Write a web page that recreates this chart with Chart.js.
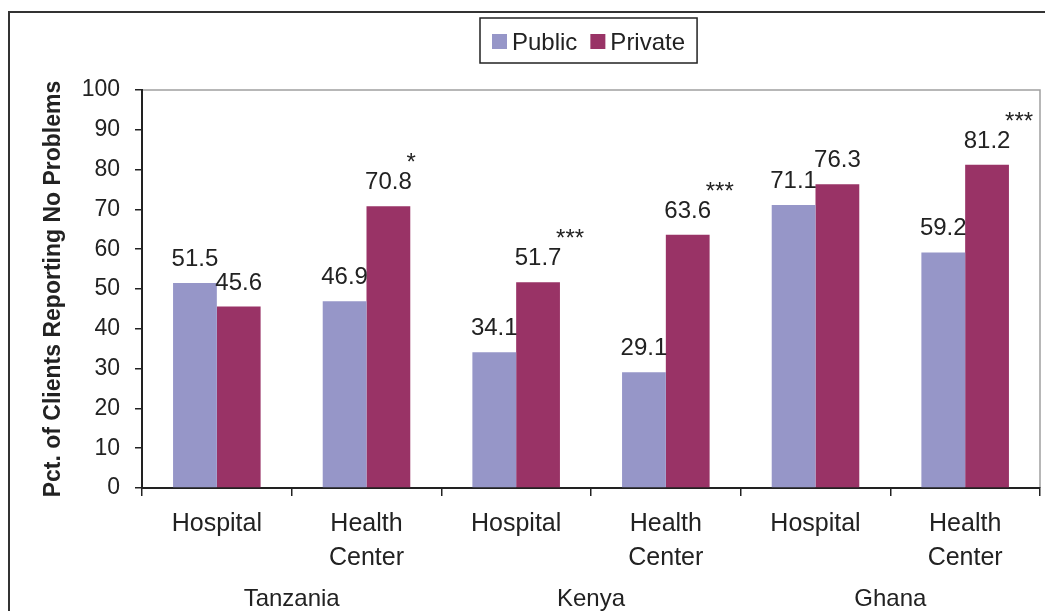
<!DOCTYPE html>
<html>
<head>
<meta charset="utf-8">
<script src="https://cdn.jsdelivr.net/npm/chart.js@4"></script>
<style>
  html, body { margin: 0; padding: 0; background: #fff; }
  canvas { display: block; }
</style>
</head>
<body>
<canvas id="myChart" width="1045" height="611"></canvas>
<script>
const categories = [["Hospital"], ["Health", "Center"], ["Hospital"], ["Health", "Center"], ["Hospital"], ["Health", "Center"]];
const countries = ["Tanzania", "Kenya", "Ghana"];
const publicValues = [51.5, 46.9, 34.1, 29.1, 71.1, 59.2];
const privateValues = [45.6, 70.8, 51.7, 63.6, 76.3, 81.2];
const privateStars = ["", "*", "***", "***", "", "***"];

const FONT = "'Liberation Sans', Arial, sans-serif";
const TEXT = "#222222";

// outer frame + grey plot border (top and right)
const frame = {
  id: "frame",
  beforeDraw(chart) {
    const ctx = chart.ctx;
    const a = chart.chartArea;
    ctx.save();
    ctx.fillStyle = "#ffffff";
    ctx.fillRect(0, 0, chart.width, chart.height);
    ctx.strokeStyle = "#333333";
    ctx.lineWidth = 2;
    ctx.strokeRect(9, 12, chart.width + 20, chart.height + 20);
    ctx.strokeStyle = "#a0a0a0";
    ctx.lineWidth = 1.5;
    ctx.beginPath();
    ctx.moveTo(a.left, a.top);
    ctx.lineTo(a.right, a.top);
    ctx.lineTo(a.right, a.bottom);
    ctx.stroke();
    ctx.restore();
  },
};

const valueLabels = {
  id: "valueLabels",
  afterDatasetsDraw(chart) {
    const ctx = chart.ctx;
    ctx.save();
    ctx.fillStyle = TEXT;
    ctx.font = "24px " + FONT;
    ctx.textBaseline = "alphabetic";
    chart.data.datasets.forEach((ds, di) => {
      chart.getDatasetMeta(di).data.forEach((bar, i) => {
        const y = bar.y - 17;
        ctx.textAlign = "center";
        ctx.fillText(ds.data[i].toFixed(1), bar.x, y);
        if (di === 1 && privateStars[i]) {
          ctx.textAlign = "left";
          ctx.fillText(privateStars[i], bar.x + 18, y - 19);
        }
      });
    });
    ctx.restore();
  },
};

const legendBox = {
  id: "legendBox",
  afterDraw(chart) {
    const ctx = chart.ctx;
    const a = chart.chartArea;
    ctx.save();
    ctx.font = "24px " + FONT;
    const box = 15, gap = 5, itemGap = 13, padX = 12;
    const items = chart.data.datasets.map((ds) => ({
      text: ds.label,
      color: ds.backgroundColor,
      w: ctx.measureText(ds.label).width,
    }));
    let total = padX * 2 + itemGap * (items.length - 1);
    items.forEach((it) => (total += box + gap + it.w));
    const left = Math.round((a.left + a.right) / 2 - total / 2) - 2;
    const top = 18, height = 45;
    ctx.strokeStyle = TEXT;
    ctx.lineWidth = 1.5;
    ctx.strokeRect(left, top, total, height);
    let x = left + padX;
    ctx.textAlign = "left";
    ctx.textBaseline = "alphabetic";
    items.forEach((it) => {
      ctx.fillStyle = it.color;
      ctx.fillRect(x, 34, box, box);
      x += box + gap;
      ctx.fillStyle = TEXT;
      ctx.fillText(it.text, x, 50);
      x += it.w + itemGap;
    });
    ctx.restore();
  },
};

const ctx = document.getElementById("myChart").getContext("2d");
const myChart = new Chart(ctx, {
  type: "bar",
  data: {
    labels: categories,
    datasets: [
      { label: "Public", data: publicValues, backgroundColor: "#9696c8" },
      { label: "Private", data: privateValues, backgroundColor: "#993366" },
    ],
  },
  options: {
    responsive: false,
    animation: false,
    datasets: { bar: { categoryPercentage: 0.585, barPercentage: 1 } },
    layout: { padding: { top: 90, right: 5, left: 38, bottom: 0 } },
    plugins: { legend: { display: false }, tooltip: { enabled: false } },
    scales: {
      x: {
        offset: true,
        afterFit: (scale) => { scale.height = 80; },
        grid: { drawOnChartArea: false, tickLength: 8, color: TEXT, lineWidth: 1.5 },
        border: { color: TEXT, width: 2 },
        ticks: { font: { family: FONT, size: 25, lineHeight: 1.36 }, color: TEXT, padding: 11, maxRotation: 0, autoSkip: false },
      },
      x2: {
        type: "category",
        labels: countries,
        position: "bottom",
        offset: true,
        afterFit: (scale) => { scale.height = 43; },
        grid: { display: false },
        border: { display: false },
        ticks: { font: { family: FONT, size: 24, lineHeight: 1.2 }, color: TEXT, padding: 9, maxRotation: 0 },
      },
      y: {
        min: 0,
        max: 100,
        afterFit: (scale) => { scale.width = 104; },
        grid: { drawOnChartArea: false, tickLength: 7, color: TEXT, lineWidth: 1.5 },
        border: { color: TEXT, width: 2 },
        ticks: { stepSize: 10, font: { family: FONT, size: 23 }, color: TEXT, padding: 15 },
        title: {
          display: true,
          text: "Pct. of Clients Reporting No Problems",
          font: { family: FONT, size: 23, weight: "bold" },
          color: TEXT,
          padding: { top: 2, bottom: 0 },
        },
      },
    },
  },
  plugins: [frame, valueLabels, legendBox],
});
</script>
</body>
</html>
